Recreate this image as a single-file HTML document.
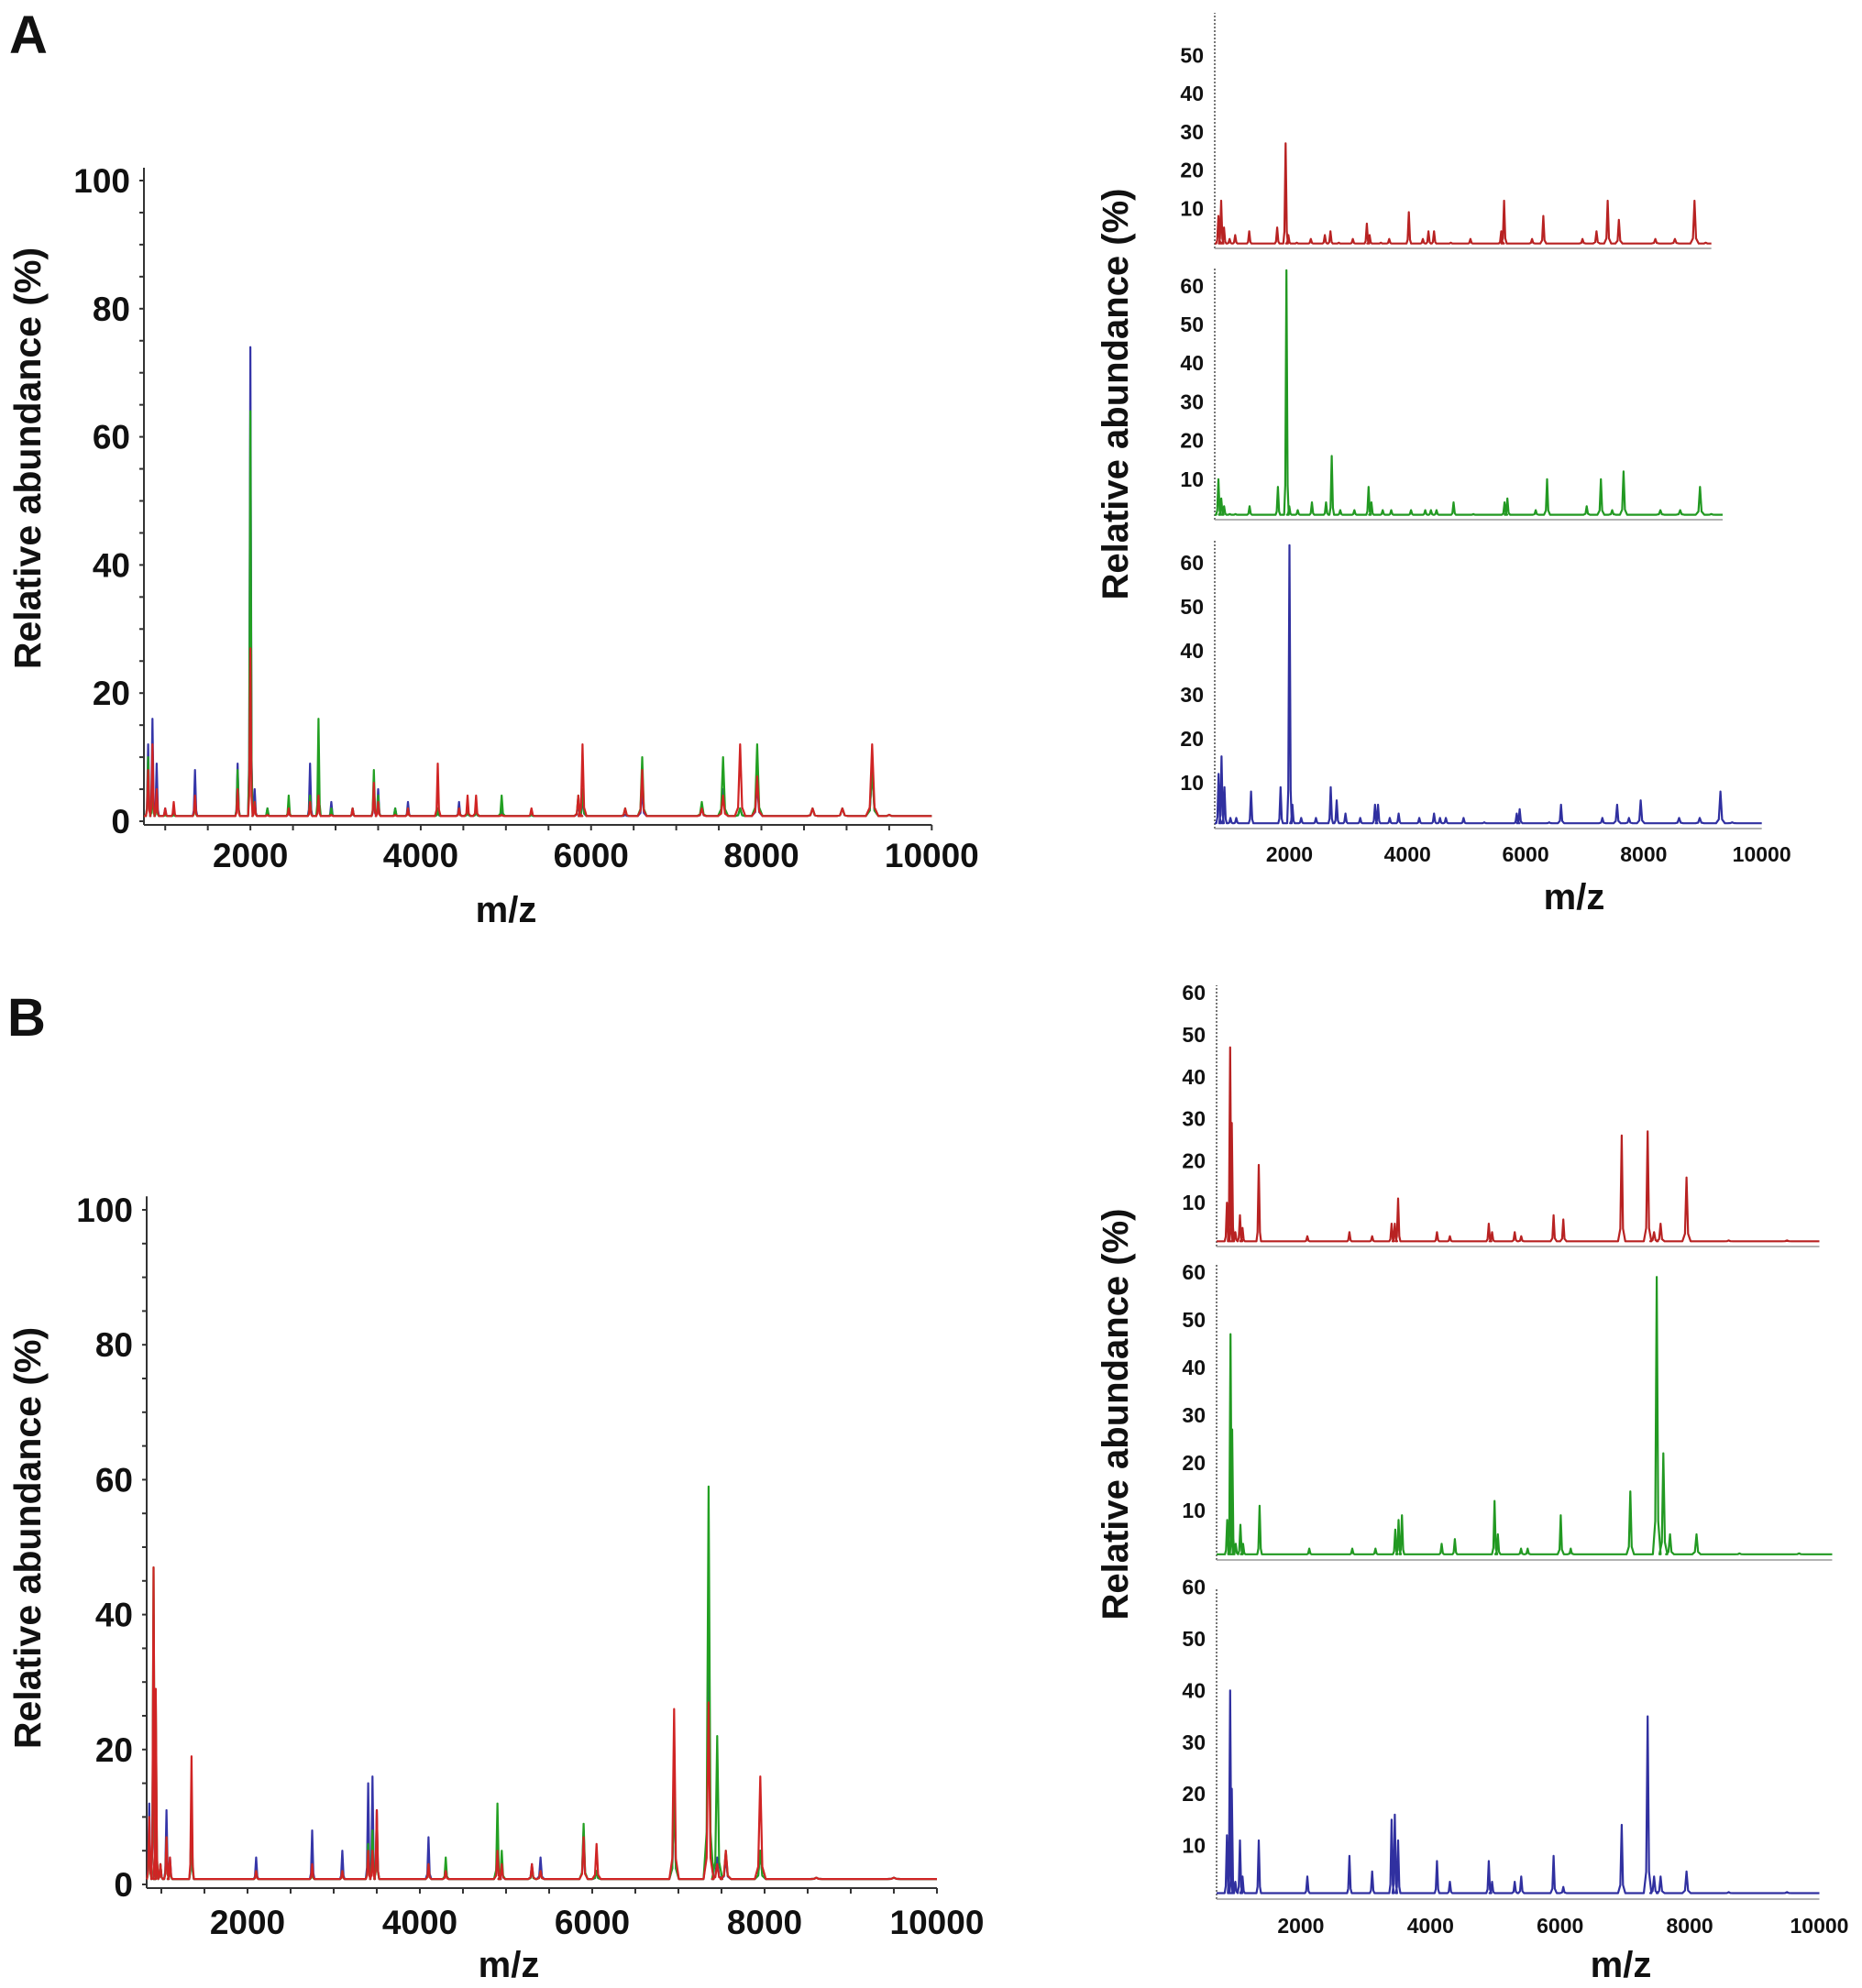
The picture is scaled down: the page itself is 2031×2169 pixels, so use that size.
<!DOCTYPE html>
<html><head><meta charset="utf-8"><style>
html,body{margin:0;padding:0;background:#fff}
svg{display:block}
text{font-family:"Liberation Sans",Arial,sans-serif;font-weight:bold;fill:#111}
</style></head><body>
<svg id="fig" width="2031" height="2169" viewBox="0 0 2031 2169" xmlns="http://www.w3.org/2000/svg">
<text x="10" y="58" font-size="58">A</text>
<text x="8" y="1130" font-size="58">B</text>
<text transform="translate(44,500) rotate(-90)" text-anchor="middle" font-size="41">Relative abundance (%)</text>
<text x="552" y="1006" text-anchor="middle" font-size="40">m/z</text>
<text transform="translate(44,1678) rotate(-90)" text-anchor="middle" font-size="41">Relative abundance (%)</text>
<text x="555" y="2157" text-anchor="middle" font-size="40">m/z</text>
<text transform="translate(1230,430) rotate(-90)" text-anchor="middle" font-size="40">Relative abundance (%)</text>
<text x="1717" y="992" text-anchor="middle" font-size="40">m/z</text>
<text transform="translate(1230,1543) rotate(-90)" text-anchor="middle" font-size="40">Relative abundance (%)</text>
<text x="1768" y="2157" text-anchor="middle" font-size="40">m/z</text>
</svg>
<script>
// ---- data ----
const mzA = [800,850,900,1000,1100,1350,1850,2000,2050,2200,2450,2700,2800,2950,3200,3450,3500,3700,3850,4200,4450,4550,4650,4950,5300,5850,5900,6400,6600,7300,7550,7750,7950,8600,8950,9300,9500];
const redA = [8,12,5,2,3,4,5,27,3,1,2,3,4,1,2,6,3,1,2,9,2,4,4,1,2,4,12,2,8,2,4,12,7,2,2,12,1];
const greenA = [10,5,3,1,1,3,8,64,3,2,4,4,16,2,2,8,4,2,2,2,2,2,2,4,1,4,5,2,10,3,10,2,12,2,2,8,1];
const blueA = [12,16,9,2,2,8,9,74,5,2,2,9,6,3,2,5,5,2,3,2,3,2,2,2,1,3,4,1,5,2,5,2,6,2,2,8,1];
const mzB = [860,910,935,990,1060,1100,1350,2100,2750,3100,3400,3450,3500,4100,4300,4900,4950,5300,5400,5900,6050,6950,7350,7450,7550,7950,8600,9500];
const redB = [10,47,29,3,7,4,19,2,3,2,5,5,11,3,2,5,3,3,2,7,6,26,27,3,5,16,1,1];
const greenB = [8,47,27,3,7,3,11,2,2,2,6,8,9,3,4,12,5,2,2,9,2,14,59,22,5,5,1,1];
const blueB = [12,40,21,3,11,4,11,4,8,5,15,16,11,7,3,7,3,3,4,8,2,14,35,4,4,5,1,1];
const mainYTicks = [0,20,40,60,80,100];
const xTicks = [2000,4000,6000,8000,10000];
const smallYTicksA1 = [10,20,30,40,50];
const smallYTicks = [10,20,30,40,50,60];

const svg = document.getElementById('fig');
const NS = 'http://www.w3.org/2000/svg';
function mk(tag, attrs, parent){const e=document.createElementNS(NS,tag);for(const k in attrs)e.setAttribute(k,attrs[k]);(parent||svg).appendChild(e);return e;}

function spectrum(g, mz, vals, xs, ys, color, x0m, x1m, ymaxv, name){
  const base=0.8;
  let d='M'+xs(x0m).toFixed(1)+','+ys(base).toFixed(1);
  const idx=mz.map((m,i)=>i).sort((a,b)=>mz[a]-mz[b]);
  for(const i of idx){
    const m=mz[i]; if(m<x0m||m>x1m) continue;
    const v=Math.min(vals[i],ymaxv);
    const c=xs(m); const hw=Math.max(1.3,(xs(m*1.003)-c));
    const foot=Math.max(2.5,(xs(m*1.008)-c));
    d+=' L'+(c-foot).toFixed(1)+','+ys(base).toFixed(1)+' L'+(c-hw).toFixed(1)+','+ys(base+ (v-base)*0.12).toFixed(1)+' L'+c.toFixed(1)+','+ys(v).toFixed(1)+' L'+(c+hw).toFixed(1)+','+ys(base+(v-base)*0.12).toFixed(1)+' L'+(c+foot).toFixed(1)+','+ys(base).toFixed(1);
  }
  d+=' L'+xs(x1m).toFixed(1)+','+ys(base).toFixed(1);
  const p=mk('path',{d:d,fill:'none',stroke:color,'stroke-width':2.2,'stroke-linejoin':'round'},g);
  
  
}

function mainChart(cfg){
  const g=mk('g',{});
  
  
  const xs=m=>cfg.x0+(m-cfg.m0)*cfg.kx;
  const ys=v=>cfg.y0-v*cfg.ky;
  mk('line',{x1:cfg.x0,y1:ys(0)+4,x2:cfg.x0,y2:ys(102),stroke:'#333','stroke-width':2},g);
  mk('line',{x1:cfg.x0,y1:ys(0)+4,x2:xs(10000),y2:ys(0)+4,stroke:'#333','stroke-width':2},g);
  for(let v=0;v<=100;v+=5) mk('line',{x1:cfg.x0-5,y1:ys(v),x2:cfg.x0,y2:ys(v),stroke:'#333','stroke-width':2},g);
  for(let m=1000;m<=10000;m+=500) mk('line',{x1:xs(m),y1:ys(0)+4,x2:xs(m),y2:ys(0)+10,stroke:'#333','stroke-width':2},g);
  mainYTicks.forEach(v=>{const t=mk('text',{x:cfg.x0-15,y:ys(v)+13,'text-anchor':'end','font-size':37},g);t.textContent=v;
    
    });
  xTicks.forEach(m=>{const t=mk('text',{x:xs(m),y:cfg.xly,'text-anchor':'middle','font-size':37},g);t.textContent=m;
    
    });
  spectrum(g,cfg.mz,cfg.b,xs,ys,'#3535a8',cfg.m0,10000,100,'blue-series');
  spectrum(g,cfg.mz,cfg.gr,xs,ys,'#22a022',cfg.m0,10000,100,'green-series');
  spectrum(g,cfg.mz,cfg.r,xs,ys,'#d02424',cfg.m0,10000,100,'red-series');
}
mainChart({name:'a-main-chart',x0:157,m0:750,kx:0.0929,y0:896,ky:6.99,mz:mzA,r:redA,gr:greenA,b:blueA,xly:946});
mainChart({name:'b-main-chart',x0:160,m0:830,kx:0.094,y0:2056,ky:7.36,mz:mzB,r:redB,gr:greenB,b:blueB,xly:2110});

function panel(cfg){
  const g=mk('g',{});
  
  
  const xs=m=>cfg.x0+(m-cfg.m0)*cfg.kx;
  const ys=v=>cfg.y0-v*cfg.ky;
  mk('line',{x1:cfg.x0,y1:cfg.y0+2,x2:cfg.x0,y2:cfg.top,stroke:'#777','stroke-width':2,'stroke-dasharray':'2,2'},g);
  mk('line',{x1:cfg.x0,y1:cfg.y0+2,x2:xs(cfg.m1),y2:cfg.y0+2,stroke:'#999','stroke-width':1.5},g);
  cfg.ticks.forEach(v=>{const t=mk('text',{x:cfg.x0-12,y:ys(v)+8,'text-anchor':'end','font-size':23},g);t.textContent=v;
    
    });
  if(cfg.xl){xTicks.forEach(m=>{const t=mk('text',{x:xs(m),y:cfg.xl,'text-anchor':'middle','font-size':23},g);t.textContent=m;
    
    });}
  spectrum(g,cfg.mz,cfg.vals,xs,ys,cfg.color,cfg.m0,cfg.m1,cfg.ymax,cfg.name+'-series');
}
panel({name:'a-red-panel',x0:1325,m0:735,kx:0.0611,y0:269,ky:4.17,top:14,m1:9600,ticks:smallYTicksA1,mz:mzA,vals:redA,color:'#b82222',ymax:60});
panel({name:'a-green-panel',x0:1325,m0:735,kx:0.0618,y0:565,ky:4.22,top:291,m1:9700,ticks:smallYTicks,mz:mzA,vals:greenA,color:'#229922',ymax:64});
panel({name:'a-blue-panel',x0:1325,m0:735,kx:0.0644,y0:902,ky:4.8,top:590,m1:10000,ticks:smallYTicks,mz:mzA,vals:blueA,color:'#3030a0',ymax:64,xl:940});
panel({name:'b-red-panel',x0:1327,m0:700,kx:0.0707,y0:1358,ky:4.58,top:1075,m1:10000,ticks:smallYTicks,mz:mzB,vals:redB,color:'#b82222',ymax:60});
panel({name:'b-green-panel',x0:1327,m0:700,kx:0.0722,y0:1700,ky:5.2,top:1380,m1:10000,ticks:smallYTicks,mz:mzB,vals:greenB,color:'#229922',ymax:60});
panel({name:'b-blue-panel',x0:1327,m0:700,kx:0.0707,y0:2070,ky:5.64,top:1732,m1:10000,ticks:smallYTicks,mz:mzB,vals:blueB,color:'#3030a0',ymax:60,xl:2109});
</script>
</body></html>
